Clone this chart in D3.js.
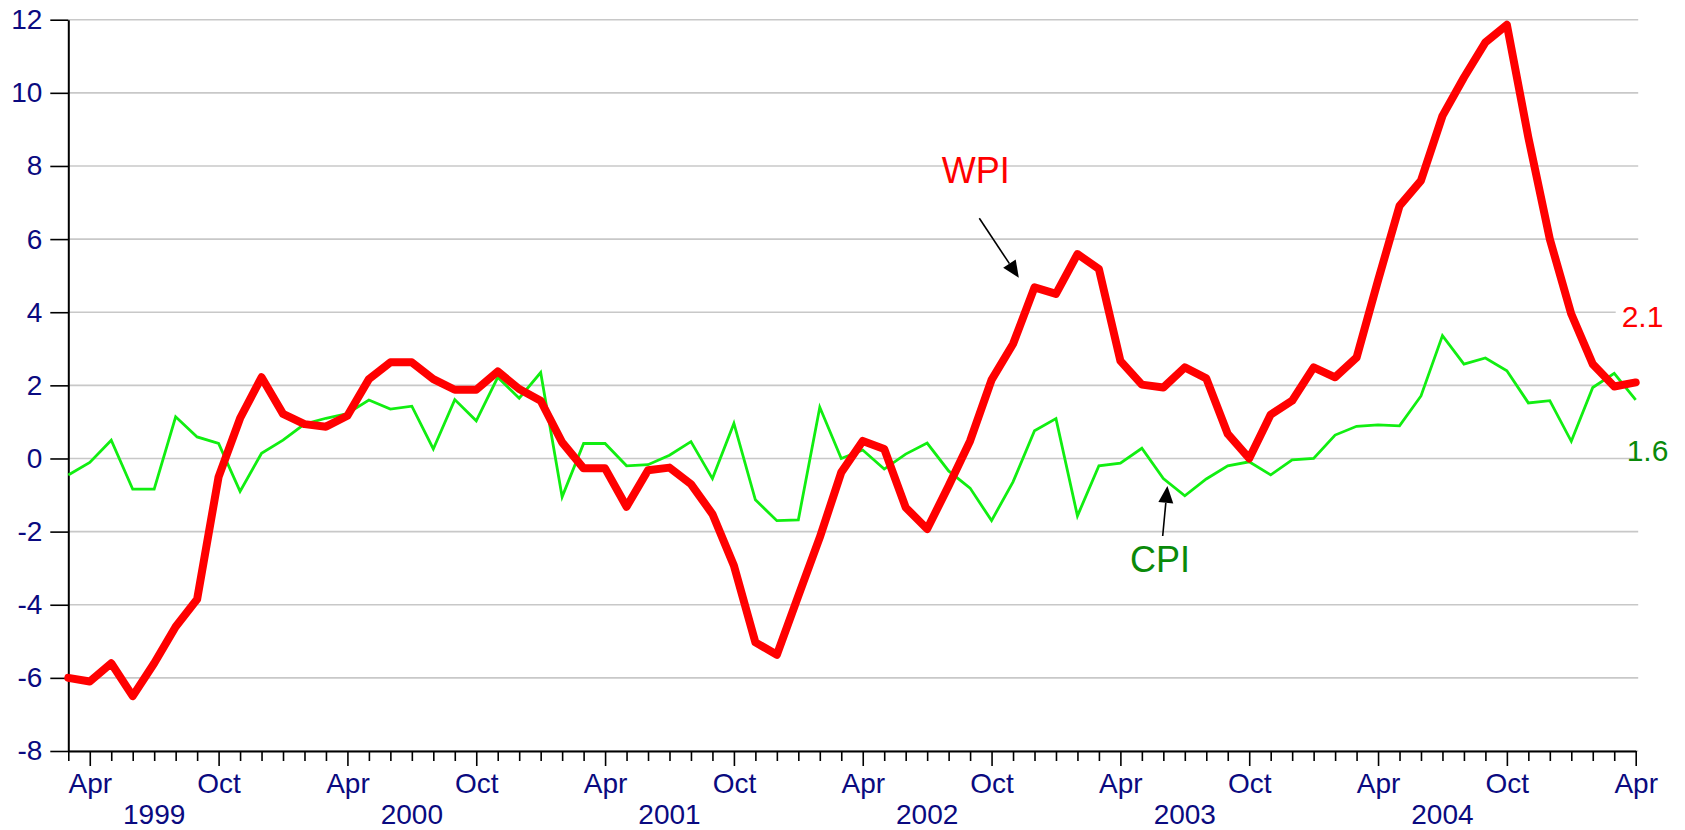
<!DOCTYPE html>
<html><head><meta charset="utf-8">
<script src="https://cdn.jsdelivr.net/npm/d3@7/dist/d3.min.js"></script>
<style>
body{margin:0;background:#fff}
svg{display:block}
text{font-family:"Liberation Sans",Arial,sans-serif}
</style>
</head><body>
<svg id="chart" width="1685" height="830"></svg>
<script>
// Monthly series, March 1999 .. April 2005 (index 0 = Mar 1999)
const startMonthOfYear = 2; // March (0-based)
const wpi = [-6.0,-6.1,-5.6,-6.5,-5.6,-4.6,-3.85,-0.5,1.1,2.22,
  1.22,0.94,0.87,1.17,2.17,2.63,2.63,2.17,1.88,1.88,2.38,1.9,
  1.58,0.44,-0.27,-0.27,-1.32,-0.32,-0.25,-0.7,-1.52,-2.93,-5.03,-5.37,
  -3.76,-2.16,-0.38,0.48,0.26,-1.34,-1.93,-0.75,0.48,2.15,3.13,4.68,
  4.5,5.59,5.18,2.67,2.02,1.94,2.49,2.19,0.67,0.0,1.2,1.58,
  2.49,2.22,2.76,4.87,6.91,7.6,9.37,10.42,11.38,11.86,8.78,6.0,
  3.95,2.58,1.97,2.08];
const cpi = [-0.45,-0.11,0.5,-0.84,-0.84,1.14,0.59,0.41,-0.9,0.14,
  0.5,0.94,1.1,1.23,1.6,1.35,1.43,0.26,1.61,1.03,2.22,1.65,
  2.35,-1.05,0.41,0.41,-0.2,-0.17,0.09,0.46,-0.55,0.96,-1.13,-1.7,
  -1.68,1.4,0.0,0.23,-0.29,0.12,0.42,-0.34,-0.81,-1.7,-0.64,0.76,
  1.09,-1.57,-0.2,-0.13,0.28,-0.55,-1.02,-0.56,-0.2,-0.09,-0.45,-0.04,
  0.0,0.64,0.88,0.92,0.89,1.71,3.36,2.58,2.75,2.4,1.52,1.58,
  0.47,1.94,2.33,1.6];
const yTicks = [-8,-6,-4,-2,0,2,4,6,8,10,12];
const monthNames = {3:"Apr", 9:"Oct"};
const yearLabels = [1999,2000,2001,2002,2003,2004];
const wpiLabel = "WPI", cpiLabel = "CPI";

(function () {
const svg = d3.select("#chart");
const mL = 68.3, mR = 1635.7, mT = 19.7, mB = 751;
const n = wpi.length;

const x = d3.scaleLinear().domain([0, n - 1]).range([mL, mR]);
const y = d3.scaleLinear().domain([-8, 12]).range([mB, mT]);

const navy = "#0a0a80";
const FF = '"Liberation Sans",Arial,sans-serif';

// grid
svg.append("g").selectAll("line").data(yTicks).join("line")
  .attr("x1", mL).attr("x2", mR + 2.5)
  .attr("y1", d => y(d)).attr("y2", d => y(d))
  .attr("stroke", "#c8c8c8").attr("stroke-width", 1.6);

// y axis
const gy = svg.append("g").attr("transform", `translate(${mL},0)`)
  .call(d3.axisLeft(y).tickValues(yTicks).tickSize(18).tickSizeOuter(0).tickPadding(8)
    .tickFormat(d => String(d)));
gy.select(".domain").attr("stroke", "#000").attr("stroke-width", 2);
gy.selectAll(".tick line").attr("stroke", "#000").attr("stroke-width", 1.6);
gy.selectAll(".tick text").attr("fill", navy).style("font-size", "28px").style("font-family", FF);

// x axis
const gx = svg.append("g").attr("transform", `translate(0,${mB})`)
  .call(d3.axisBottom(x).tickValues(d3.range(n)).tickSize(10).tickSizeOuter(0)
    .tickFormat(i => monthNames[(startMonthOfYear + i) % 12] || ""));
gx.select(".domain").attr("stroke", "#000").attr("stroke-width", 2);
gx.selectAll(".tick line").attr("stroke", "#000").attr("stroke-width", 1.6)
  .attr("y2", i => monthNames[(startMonthOfYear + i) % 12] ? 15 : 10);
gx.selectAll(".tick text").attr("fill", navy).attr("y", 42).attr("dy", null)
  .style("font-size", "28px").style("font-family", FF);

// year labels centered at mid-year
svg.append("g").selectAll("text").data(yearLabels).join("text")
  .attr("x", yr => x((yr - 1999) * 12 + 6 - startMonthOfYear))
  .attr("y", mB + 73)
  .attr("text-anchor", "middle").attr("fill", navy).style("font-size", "28px")
  .text(d => d);

// lines
const line = d3.line().x((d, i) => x(i)).y(d => y(d));
svg.append("path").datum(cpi).attr("d", line)
  .attr("fill", "none").attr("stroke", "#11ee11").attr("stroke-width", 2.8)
  .attr("stroke-linejoin", "miter");
svg.append("path").datum(wpi).attr("d", line)
  .attr("fill", "none").attr("stroke", "#ff0000").attr("stroke-width", 8)
  .attr("stroke-linejoin", "round").attr("stroke-linecap", "round");

// annotations (data coordinates: month index, value)
function arrow(x0, y0, x1, y1) {
  const px0 = x(x0), py0 = y(y0), px1 = x(x1), py1 = y(y1);
  const dx = px1 - px0, dy = py1 - py0, L = Math.hypot(dx, dy);
  const ux = dx / L, uy = dy / L, hl = 17, hw = 7.5;
  const bx = px1 - ux * hl, by = py1 - uy * hl;
  svg.append("line").attr("x1", px0).attr("y1", py0).attr("x2", bx).attr("y2", by)
    .attr("stroke", "#000").attr("stroke-width", 1.6);
  svg.append("polygon").attr("points",
    `${px1},${py1} ${bx - uy * hw},${by + ux * hw} ${bx + uy * hw},${by - ux * hw}`)
    .attr("fill", "#000");
}
svg.append("text").attr("x", x(40.68)).attr("y", y(7.54))
  .attr("fill", "#ff0000").style("font-size", "36px").text(wpiLabel);
arrow(42.43, 6.57, 44.27, 4.94);
svg.append("text").attr("x", x(49.45)).attr("y", y(-3.10))
  .attr("fill", "#0a8a0a").style("font-size", "36px").text(cpiLabel);
arrow(50.97, -2.12, 51.19, -0.75);

// end labels
const lastW = wpi[n - 1], lastC = cpi[n - 1];
svg.append("rect").attr("x", x(n - 1) - 20).attr("y", y(lastW) - 77)
  .attr("width", 50).attr("height", 28).attr("fill", "#fff");
svg.append("text").attr("x", x(n - 1) - 14).attr("y", y(lastW) - 55)
  .attr("fill", "#ff0000").style("font-size", "30px").text(d3.format(".1f")(lastW));
svg.append("text").attr("x", x(n - 1) - 9).attr("y", y(lastC) + 61)
  .attr("fill", "#0a8a0a").style("font-size", "30px").text(d3.format(".1f")(lastC));
})();
</script>
</body></html>
